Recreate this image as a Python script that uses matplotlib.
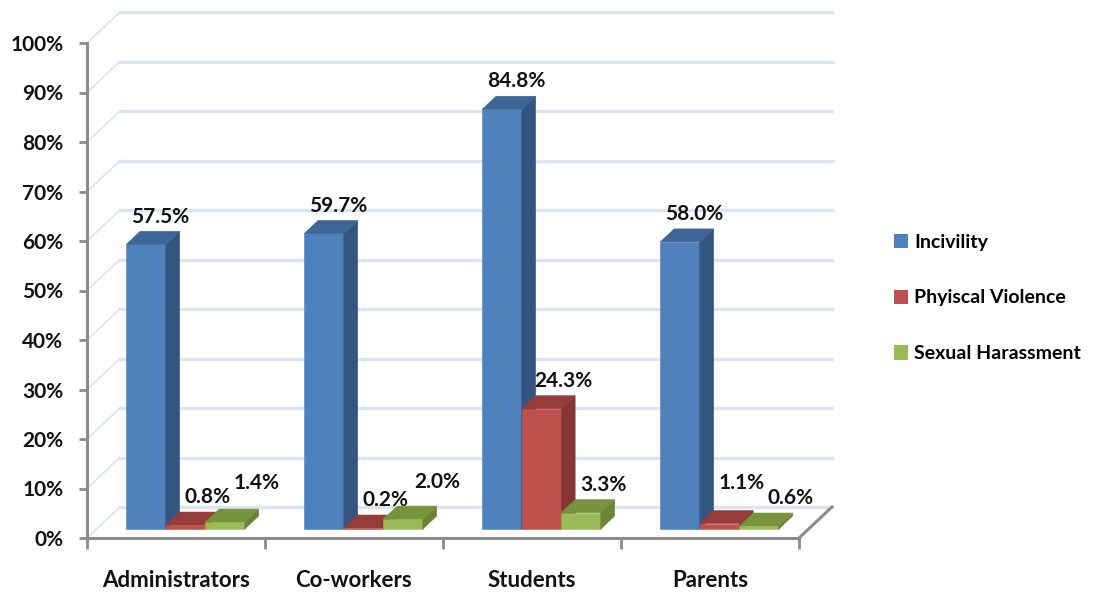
"""Workplace mistreatment by source, drawn as a 3-D style clustered column chart"""
import matplotlib
matplotlib.use('Agg')
import matplotlib.pyplot as plt
from matplotlib.patches import Polygon, Patch

plt.rcParams['font.family'] = ['Lato', 'DejaVu Sans']
plt.rcParams['font.weight'] = 'bold'

categories = ['Administrators', 'Co-workers', 'Students', 'Parents']
series_names = ['Incivility', 'Phyiscal Violence', 'Sexual Harassment']
incivility = [57.5, 59.7, 84.8, 58.0]
physical_violence = [0.8, 0.2, 24.3, 1.1]
sexual_harassment = [1.4, 2.0, 3.3, 0.6]
y_ticks = [0, 10, 20, 30, 40, 50, 60, 70, 80, 90, 100]

# front / top / side shades for each series
FACES = [
    ('#4f81bd', '#3d6696', '#34557f'),
    ('#c0504d', '#963c3a', '#853533'),
    ('#9bbb59', '#77933c', '#6b8537'),
]

DX, DY = 0.185, 6.26          # oblique depth offset (category units, percent)
F0, F1 = 0.29, 0.71           # front and back depth of the columns
BAR_W = 0.222
GRID = '#dbe4f0'
AXIS = '#8c8c8c'
INK = '#111111'

# label nudges (points) where neighbouring labels would collide
NUDGE = {(0, 2): (7, 8), (1, 2): (9, 7), (3, 1): (0, 9), (3, 2): (7, 0)}


def shift(x, y, f):
    """Move a point on the front plane back to depth f"""
    return x + f * DX, y + f * DY


def draw_column(ax, xc, value, colors):
    """Front, top and side faces of one column"""
    front, top, side = colors
    xl, xr = xc - BAR_W / 2, xc + BAR_W / 2
    faces = [
        ([shift(xl, 0, F0), shift(xr, 0, F0), shift(xr, value, F0), shift(xl, value, F0)], front),
        ([shift(xr, 0, F0), shift(xr, 0, F1), shift(xr, value, F1), shift(xr, value, F0)], side),
        ([shift(xl, value, F0), shift(xr, value, F0), shift(xr, value, F1), shift(xl, value, F1)], top),
    ]
    for pts, col in faces:
        ax.add_patch(Polygon(pts, closed=True, facecolor=col, edgecolor=col,
                             linewidth=0.4, clip_on=False, zorder=3))


def main():
    """Build the chart and save it"""
    fig = plt.figure(figsize=(10.99, 5.95), dpi=100)
    ax = fig.add_axes([87 / 1099, 57 / 595, 712 / 1099, 495 / 595])
    ax.set_xlim(-0.5, 3.5)
    ax.set_ylim(0, 100)
    ax.patch.set_visible(False)

    # back wall gridlines and the side wall diagonals
    for g in y_ticks:
        ax.plot([-0.5 + DX, 3.5 + DX], [g + DY, g + DY], color=GRID,
                linewidth=2.4, clip_on=False, zorder=1)
        ax.plot([-0.5, -0.5 + DX], [g, g + DY], color=GRID,
                linewidth=1.2, clip_on=False, zorder=1)
    ax.plot([3.5, 3.5 + DX], [0, DY], color=AXIS, linewidth=2.2,
            clip_on=False, zorder=2)

    series = [incivility, physical_violence, sexual_harassment]
    for i in range(len(categories)):
        for s, values in enumerate(series):
            xc = i + (s - 1) * BAR_W
            draw_column(ax, xc, values[i], FACES[s])
            lx, ly = shift(xc, values[i] + 3.0, F1)
            nx, ny = NUDGE.get((i, s), (0, 0))
            if s > 0:
                nx += 6
            ax.annotate(f'{values[i]:.1f}%', (lx, ly), xytext=(nx, ny),
                        textcoords='offset points', ha='center', va='center',
                        fontsize=15, color=INK, zorder=5, annotation_clip=False)

    for side in ('top', 'right'):
        ax.spines[side].set_visible(False)
    for side in ('left', 'bottom'):
        ax.spines[side].set_color(AXIS)
        ax.spines[side].set_linewidth(2.2)

    ax.set_yticks(y_ticks)
    ax.set_yticklabels([f'{t}%' for t in y_ticks])
    ax.tick_params(axis='y', length=6, width=2, color=AXIS, pad=11,
                   labelsize=15, labelcolor=INK)
    ax.set_xticks(range(len(categories)))
    ax.set_xticklabels(categories)
    ax.set_xticks([-0.5, 0.5, 1.5, 2.5, 3.5], minor=True)
    ax.tick_params(axis='x', which='major', length=0, pad=23,
                   labelsize=16, labelcolor=INK)
    ax.tick_params(axis='x', which='minor', length=8, width=2, color=AXIS)

    handles = [Patch(facecolor=c[0], edgecolor='none') for c in FACES]
    fig.legend(handles, series_names, loc='center left',
               bbox_to_anchor=(876 / 1099, 1 - 298 / 595), frameon=False,
               fontsize=14, handlelength=0.75, handleheight=0.75,
               handletextpad=0.3, labelspacing=2.0)

    fig.savefig('out.png', dpi=100)


if __name__ == "__main__":
    main()
